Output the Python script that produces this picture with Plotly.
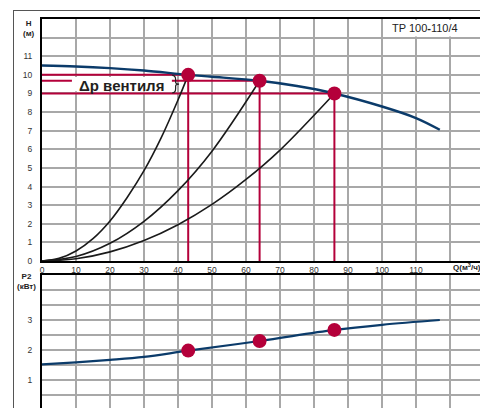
import plotly.graph_objects as go

# Напорная характеристика насоса H(Q)
q_pump = [0, 10, 20, 30, 43, 50, 64, 75, 86, 100, 110, 117]
h_pump = [10.5, 10.45, 10.36, 10.23, 10.0, 9.9, 9.68, 9.4, 9.0, 8.3, 7.68, 7.05]

# Характеристики сети при разных положениях вентиля
q_sys1 = [0, 5, 10, 15, 20, 25, 30, 35, 40, 43]
h_sys1 = [0, 0.14, 0.54, 1.2, 2.15, 3.4, 4.85, 6.6, 8.65, 10.0]
q_sys2 = [0, 10, 20, 30, 40, 50, 64]
h_sys2 = [0, 0.24, 0.95, 2.13, 3.78, 5.9, 9.68]
q_sys3 = [0, 10, 20, 30, 40, 50, 60, 70, 86]
h_sys3 = [0, 0.12, 0.49, 1.1, 1.95, 3.04, 4.38, 5.96, 9.0]

# Мощность P2(Q)
q_power = [0, 10, 20, 30, 43, 64, 86, 100, 117]
p_power = [1.52, 1.59, 1.67, 1.77, 1.98, 2.30, 2.67, 2.84, 3.0]

# Рабочие точки
q_work = [43, 64, 86]
h_work = [10.0, 9.68, 9.0]
p_work = [1.98, 2.30, 2.67]

# Деления осей
q_ticks = list(range(0, 131, 10))
q_labels = [str(v) if v <= 110 else '' for v in q_ticks]
h_ticks = list(range(0, 14))
h_labels = [str(v) if v <= 11 else '' for v in h_ticks]
p_ticks = [v / 2 for v in range(0, 10)]
p_labels = [str(int(v)) if v in (1, 2, 3) else '' for v in p_ticks]

FONT = "Liberation Sans, Arial, sans-serif"
RED = '#b4003a'
BLUE = '#0b3b6a'
GRID = '#a8a8a8'


def red_guides(qs, hs):
    # вертикальные и горизонтальные линии от рабочих точек
    xv, yv, xh, yh = [], [], [], []
    for q, h in zip(qs, hs):
        xv += [q, q, None]
        yv += [h, 0, None]
        xh += [0, q, None]
        yh += [h, h, None]
    return xv, yv, xh, yh


fig = go.Figure()

xv, yv, xh, yh = red_guides(q_work, h_work)
for xs, ys in [(xv, yv), (xh, yh)]:
    fig.add_trace(go.Scatter(x=xs, y=ys, mode='lines',
                             line=dict(color=RED, width=2),
                             xaxis='x', yaxis='y', hoverinfo='skip'))

for qs, hs in [(q_sys1, h_sys1), (q_sys2, h_sys2), (q_sys3, h_sys3)]:
    fig.add_trace(go.Scatter(x=qs, y=hs, mode='lines',
                             line=dict(color='#1a1a1a', width=1.6, shape='spline'),
                             xaxis='x', yaxis='y'))

fig.add_trace(go.Scatter(x=q_pump, y=h_pump, mode='lines',
                         line=dict(color=BLUE, width=2.4, shape='spline'),
                         xaxis='x', yaxis='y'))
fig.add_trace(go.Scatter(x=q_work, y=h_work, mode='markers',
                         marker=dict(color=RED, size=14),
                         xaxis='x', yaxis='y'))

fig.add_trace(go.Scatter(x=q_power, y=p_power, mode='lines',
                         line=dict(color=BLUE, width=2.2, shape='spline'),
                         xaxis='x2', yaxis='y2'))
fig.add_trace(go.Scatter(x=q_work, y=p_work, mode='markers',
                         marker=dict(color=RED, size=14),
                         xaxis='x2', yaxis='y2'))

axis_common = dict(showgrid=True, gridcolor=GRID, gridwidth=1.5, zeroline=False,
                   ticks='', linecolor='#000', linewidth=2, automargin=False,
                   tickfont=dict(family=FONT, size=8.5, color='#333'))

# страница имеет отступ 8px, поэтому фигура 480x400
fig.update_layout(
    width=480, height=400,
    margin=dict(l=34, r=4, t=0, b=0, autoexpand=False),
    paper_bgcolor='white', plot_bgcolor='white',
    showlegend=False,
    font=dict(family=FONT, color='#222'),
    xaxis=dict(domain=[0, 1], range=[0, 130], tickvals=q_ticks, ticktext=q_labels,
               anchor='y', showline=True, mirror=True, **axis_common),
    yaxis=dict(domain=[0.3675, 0.9725], range=[0, 13], tickvals=h_ticks,
               ticktext=h_labels, anchor='x', showline=True, mirror=True,
               ticklabelstandoff=6, **axis_common),
    xaxis2=dict(domain=[0, 1], range=[0, 130], tickvals=q_ticks, anchor='y2',
                side='top', showticklabels=False, showline=True, **axis_common),
    yaxis2=dict(domain=[0, 0.3325], range=[0.067, 4.5], tickvals=p_ticks,
                ticktext=p_labels, anchor='x2', showline=True, mirror=True,
                ticklabelstandoff=6, **axis_common),
)

# белые подложки под надписями
fig.add_shape(type='rect', xref='x', yref='y', x0=8.8, x1=38.2, y0=9.12, y1=9.88,
              fillcolor='white', line_width=0, layer='above')
fig.add_shape(type='rect', xref='x', yref='y', x0=100.4, x1=129.5, y0=12.06, y1=12.95,
              fillcolor='white', line_width=0, layer='above')

# фигурная скобка у надписи
fig.add_shape(type='path', xref='x', yref='y', layer='above',
              path='M 38.3,9.97 Q 39.3,9.97 39.3,9.75 L 39.3,9.6 Q 39.3,9.5 40.3,9.5 '
                   'Q 39.3,9.5 39.3,9.4 L 39.3,9.25 Q 39.3,9.03 38.3,9.03',
              line=dict(color='#222', width=1.2))

# внешняя рамка (рамка пустой надписи)
fig.add_annotation(x=-0.0656, y=0.995, xref='paper', yref='paper',
                   xanchor='left', yanchor='top', text=' ', showarrow=False,
                   width=500, height=420, borderpad=0,
                   bordercolor='#555', borderwidth=1)

fig.add_annotation(x=23.5, y=9.45, xref='x', yref='y', text='<b>Δр вентиля</b>',
                   showarrow=False, font=dict(family=FONT, size=15, color='#231f20'))
fig.add_annotation(x=112.6, y=12.5, xref='x', yref='y', text='TP 100<b>-</b>110/4',
                   showarrow=False, font=dict(family=FONT, size=11, color='#222'))

fig.add_annotation(x=-0.0294, y=0.949, xref='paper', yref='paper',
                   xanchor='center', yanchor='middle',
                   text='<b>H</b><br><b>(м)</b>', showarrow=False,
                   font=dict(family=FONT, size=8, color='#222'))
fig.add_annotation(x=-0.036, y=0.3175, xref='paper', yref='paper',
                   xanchor='center', yanchor='middle',
                   text='<b>P2</b><br><b>(кВт)</b>', showarrow=False,
                   font=dict(family=FONT, size=8, color='#222'))
fig.add_annotation(x=0.962, y=0.3525, xref='paper', yref='paper',
                   xanchor='center', yanchor='middle',
                   text='<b>Q(м<sup>3</sup>/ч)</b>', showarrow=False,
                   font=dict(family=FONT, size=8, color='#222'))

fig.write_html("out.html")
